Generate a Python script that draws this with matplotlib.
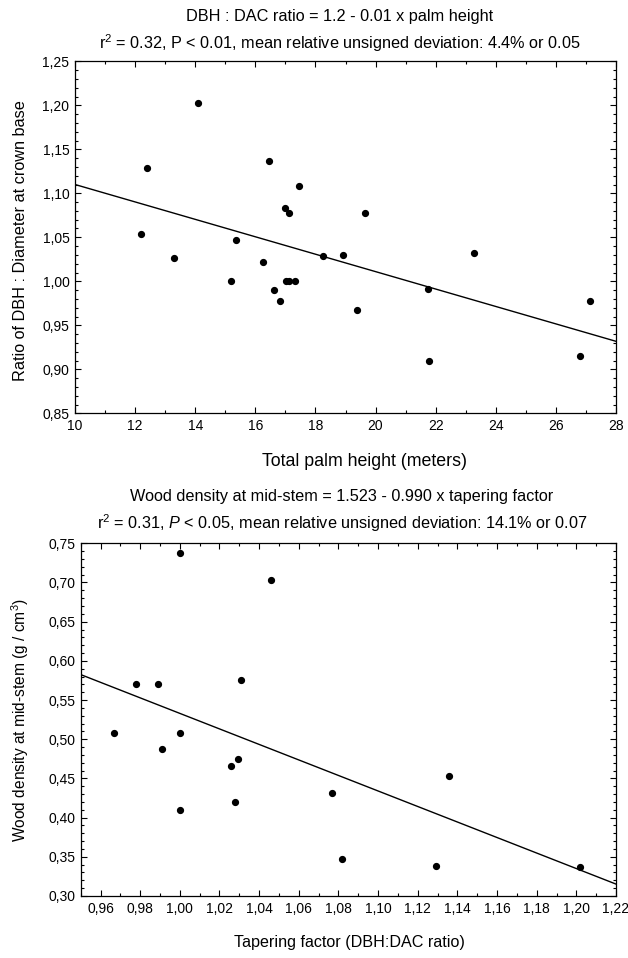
import matplotlib
matplotlib.use("Agg")
import matplotlib.pyplot as plt
from matplotlib.ticker import MultipleLocator, FuncFormatter
import numpy as np

plt.rcParams['font.family'] = ['Liberation Sans', 'DejaVu Sans']
plt.rcParams['mathtext.fontset'] = 'custom'
plt.rcParams['mathtext.rm'] = 'Liberation Sans'
plt.rcParams['mathtext.it'] = 'Liberation Sans:italic'

# top panel: palm height vs DBH:DAC ratio
palm_height = [14.09, 12.38, 12.18, 13.28, 15.20, 15.35, 16.27, 16.46, 16.61, 16.83,
               17.00, 17.11, 17.02, 17.11, 17.31, 17.45, 18.26, 18.91, 19.64, 19.38,
               21.73, 23.26, 27.14, 21.77, 26.79]
dbh_dac = [1.203, 1.129, 1.054, 1.026, 1.000, 1.047, 1.022, 1.137, 0.990, 0.978,
           1.083, 1.078, 1.000, 1.000, 1.000, 1.108, 1.029, 1.030, 1.078, 0.967,
           0.991, 1.032, 0.978, 0.909, 0.915]
fit1 = (1.209, -0.0099)

# bottom panel: tapering factor vs wood density
taper = [1.000, 1.046, 0.978, 0.989, 1.031, 0.967, 1.000, 0.991, 1.026, 1.0295,
         1.028, 1.000, 1.077, 1.136, 1.082, 1.129, 1.202]
density = [0.737, 0.703, 0.571, 0.570, 0.576, 0.508, 0.508, 0.487, 0.466, 0.475,
           0.420, 0.410, 0.431, 0.453, 0.347, 0.338, 0.337]
fit2 = (1.523, -0.990)

W, H = 628, 958
fig = plt.figure(figsize=(W / 100, H / 100), dpi=100)


def px_axes(l, t, r, b):
    return fig.add_axes([l / W, 1 - b / H, (r - l) / W, (b - t) / H])


def comma(fmt):
    return FuncFormatter(lambda v, p: fmt.format(v).replace('.', ','))


def style(ax):
    ax.tick_params(which='both', direction='in', top=True, right=True, labelsize=10,
                   width=0.8, pad=4)
    ax.tick_params(which='major', length=4)
    ax.tick_params(which='minor', length=2.5)
    for s in ax.spines.values():
        s.set_linewidth(0.9)


ax1 = px_axes(75, 61.3, 616, 413.3)
ax1.plot(palm_height, dbh_dac, 'o', color='black', markersize=4.2)
xs = np.array([10, 28])
ax1.plot(xs, fit1[0] + fit1[1] * xs, color='black', lw=1.0)
ax1.set_xlim(10, 28)
ax1.set_ylim(0.85, 1.25)
ax1.xaxis.set_major_locator(MultipleLocator(2))
ax1.xaxis.set_minor_locator(MultipleLocator(1))
ax1.yaxis.set_major_locator(MultipleLocator(0.05))
ax1.yaxis.set_minor_locator(MultipleLocator(0.01))
ax1.yaxis.set_major_formatter(comma('{:.2f}'))
ax1.xaxis.set_major_formatter(comma('{:.0f}'))
style(ax1)
ax1.set_ylabel('Ratio of DBH : Diameter at crown base', fontsize=11.7)
ax1.yaxis.set_label_coords(-0.087, 0.49)
fig.text(364 / W, 1 - 462 / H, 'Total palm height (meters)', ha='center', va='center',
         fontsize=12.8)

fig.text(340 / W, 1 - 17 / H, 'DBH : DAC ratio = 1.2 - 0.01 x palm height',
         ha='center', va='center', fontsize=11.7)
fig.text(340 / W, 1 - 43 / H,
         r'r$^2$ = 0.32, P < 0.01, mean relative unsigned deviation: 4.4% or 0.05',
         ha='center', va='center', fontsize=11.7)

ax2 = px_axes(80.7, 543.3, 616, 896)
ax2.plot(taper, density, 'o', color='black', markersize=4.2)
xs2 = np.array([0.95, 1.22])
ax2.plot(xs2, fit2[0] + fit2[1] * xs2, color='black', lw=1.0)
ax2.set_xlim(0.95, 1.22)
ax2.set_ylim(0.30, 0.75)
ax2.xaxis.set_major_locator(MultipleLocator(0.02))
ax2.xaxis.set_minor_locator(MultipleLocator(0.01))
ax2.yaxis.set_major_locator(MultipleLocator(0.05))
ax2.yaxis.set_minor_locator(MultipleLocator(0.01))
ax2.xaxis.set_major_formatter(comma('{:.2f}'))
ax2.yaxis.set_major_formatter(comma('{:.2f}'))
style(ax2)
ax2.set_xticks(np.arange(0.96, 1.2201, 0.02))
ax2.set_ylabel('Wood density at mid-stem (g / cm$^3$)', fontsize=11.2)
ax2.yaxis.set_label_coords(-0.093, 0.5)
fig.text(349 / W, 1 - 943 / H, 'Tapering factor (DBH:DAC ratio)', ha='center',
         va='center', fontsize=11.6)

fig.text(342 / W, 1 - 497 / H,
         'Wood density at mid-stem = 1.523 - 0.990 x tapering factor',
         ha='center', va='center', fontsize=11.7)
fig.text(342 / W, 1 - 523 / H,
         r'r$^2$ = 0.31, $P$ < 0.05, mean relative unsigned deviation: 14.1% or 0.07',
         ha='center', va='center', fontsize=11.7)

fig.savefig('out.png', dpi=100, facecolor='white')
